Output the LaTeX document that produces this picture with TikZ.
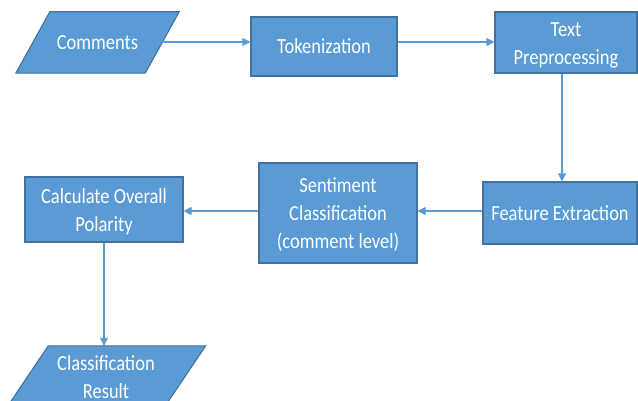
\documentclass[tikz,border=0pt]{standalone}
\usepackage{fontspec}
\setmainfont{Carlito}[FakeStretch=0.86]
\usetikzlibrary{arrows.meta,backgrounds}

\definecolor{boxfill}{HTML}{5B9BD5}
\definecolor{boxline}{HTML}{41719C}
\definecolor{flow}{HTML}{5B9BD5}

% fixed first-line height and last-line depth for stacked labels
\newcommand\tstrut{\rule{0pt}{22pt}}
\newcommand\bstrut{\rule[-6pt]{0pt}{6pt}}

\tikzset{
  label text/.style={text=white, font=\fontsize{21.5}{28}\selectfont, align=center, inner sep=0pt},
  stepbox/.style={label text, draw=boxline, fill=boxfill, line width=1.1pt},
  iobox/.style={label text},
  ioshape/.style={draw=boxline, fill=boxfill, line width=1.1pt, line join=miter},
  flowarrow/.style={draw=flow, line width=1.1pt, -{Triangle[length=8pt,width=8pt]}},
}

% parallelogram around a node: #1 node name, #2 horizontal slant offset
\newcommand\drawio[2]{%
  \begin{scope}[on background layer]
    \path[ioshape] ([xshift=#2]#1.north west) -- ([xshift=#2]#1.north east)
      -- ([xshift=-#2]#1.south east) -- ([xshift=-#2]#1.south west) -- cycle;
  \end{scope}}

\begin{document}
\begin{tikzpicture}[x=1pt, y=-1pt]
  \clip (0,0) rectangle (638,401);
  \begin{scope}[on background layer]
    \fill[white] (0,0) rectangle (638,401);
  \end{scope}

  % flow steps
  \node[iobox, minimum width=129pt, minimum height=61pt] (comments) at (97.5,42.5) {Comments};
  \drawio{comments}{17pt}
  \node[stepbox, minimum width=146pt, minimum height=59pt] (tok) at (324,46.5) {Tokenization};
  \node[stepbox, minimum width=142pt, minimum height=61pt] (prep) at (566,42.5) {\tstrut Text\\Preprocessing\bstrut};
  \node[stepbox, minimum width=154pt, minimum height=62pt] (feat) at (560,213) {Feature Extraction};
  \node[stepbox, minimum width=158pt, minimum height=100pt] (sent) at (338,213) {\tstrut Sentiment\\Classification\\(comment level)\bstrut};
  \node[stepbox, minimum width=158pt, minimum height=65pt] (polar) at (104,209.5) {\tstrut Calculate Overall\\Polarity\bstrut};
  \node[iobox, minimum width=157pt, minimum height=62pt] (result) at (106,377) {Classification\\Result};
  \drawio{result}{21pt}

  % connector rails
  \coordinate (row1) at (0,42);
  \coordinate (row2) at (0,211);
  \coordinate (down1) at (562,0);

  % connectors
  \draw[flowarrow] (comments.east |- row1) -- (tok.west |- row1);
  \draw[flowarrow] (tok.east |- row1) -- (prep.west |- row1);
  \draw[flowarrow] (prep.south -| down1) -- (feat.north -| down1);
  \draw[flowarrow] (feat.west |- row2) -- (sent.east |- row2);
  \draw[flowarrow] (sent.west |- row2) -- (polar.east |- row2);
  \draw[flowarrow] (polar.south) -- (polar.south |- result.north);
\end{tikzpicture}
\end{document}
